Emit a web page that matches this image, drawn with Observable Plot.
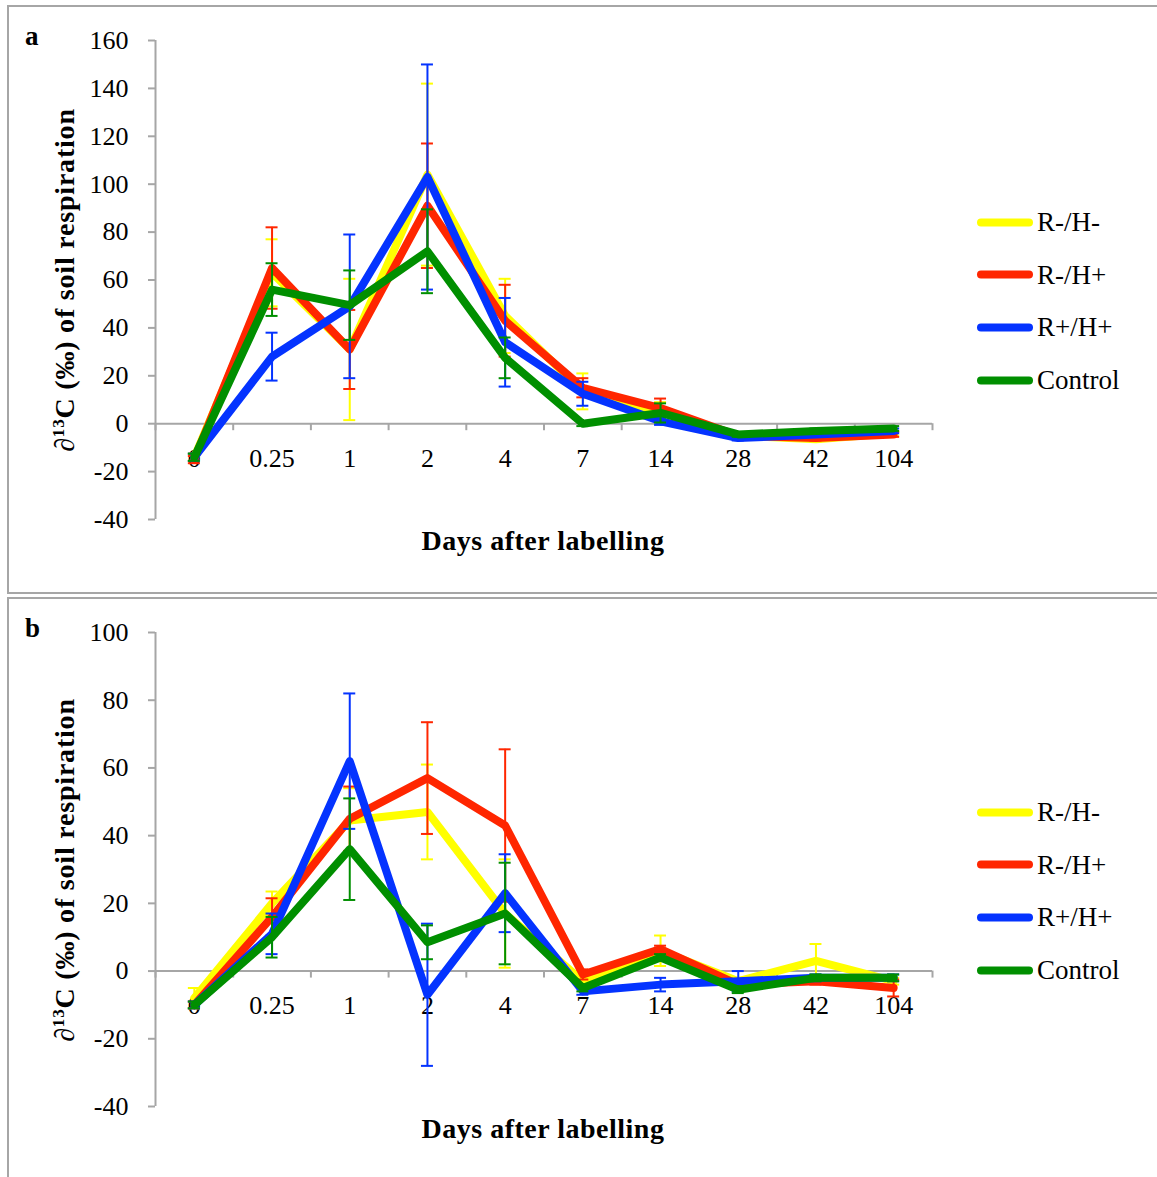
<!DOCTYPE html>
<html>
<head>
<meta charset="utf-8">
<script src="https://cdn.jsdelivr.net/npm/d3@7"></script>
<script src="https://cdn.jsdelivr.net/npm/@observablehq/plot@0.6"></script>
<style>
  html, body { margin: 0; padding: 0; background: #fff; }
  #page { position: relative; width: 1157px; height: 1177px; overflow: hidden; background: #fff;
          font-family: "Liberation Serif", "DejaVu Serif", serif; color: #000; }
  .box { position: absolute; border: 2px solid #a6a6a6; box-sizing: border-box; }
  .abs { position: absolute; white-space: nowrap; }
  .letter { font-weight: bold; font-size: 27px; }
  .ytitle { font-weight: bold; font-size: 28px; letter-spacing: 0.8px; transform: translate(-50%, -50%) rotate(-90deg); }
  .xtitle { font-weight: bold; font-size: 28px; letter-spacing: 0.5px; transform: translate(-50%, -50%); }
  .leg { font-size: 27px; transform: translateY(-50%); display: flex; align-items: center; }
  .leg .sw { width: 56px; height: 8px; border-radius: 4px; margin-right: 4px; }
  svg { position: absolute; left: 0; }
</style>
</head>
<body>
<div id="page"></div>
<script>
// ---------- data ----------
const days = ["0", "0.25", "1", "2", "4", "7", "14", "28", "42", "104"];
const seriesNames = ["R-/H-", "R-/H+", "R+/H+", "Control"];
const seriesColors = ["#ffff00", "#ff2600", "#0433ff", "#008f00"];

// panel a
const aYellow    = [-14, 63, 31, 104, 45, 13.5, 5, -5, -6.5, -4];
const aYellowErr = [1.5, 14, 29.5, 38, 15.5, 7.5, 4, 1, 1, 1];
const aRed       = [-15, 65, 31, 91, 43, 15, 6.5, -5, -6, -4.5];
const aRedErr    = [1.5, 17, 16.5, 26, 15, 4, 4, 1, 1, 1];
const aBlue      = [-14, 28, 49, 103, 34, 12.5, 1, -6, -4.5, -3];
const aBlueErr   = [1.5, 10, 30, 47, 18.5, 5, 1.5, 1, 1, 1];
const aGreen     = [-14, 56, 49.5, 72, 27.5, 0, 4.5, -4.5, -3, -2];
const aGreenErr  = [1.5, 11, 14.5, 17.5, 8.5, 1, 4, 1, 1, 1];
const aYTicks    = [-40, -20, 0, 20, 40, 60, 80, 100, 120, 140, 160];

// panel b
const bYellow    = [-8, 20, 44.5, 47, 17, -3, 6, -3, 3, -3];
const bYellowErr = [3, 3.5, 9.5, 14, 16, 1, 4.5, 1, 5, 1];
const bRed       = [-10, 16, 45, 57, 43, -1, 6.5, -4, -3, -5];
const bRedErr    = [1, 5.5, 9.5, 16.5, 22.5, 1.5, 1, 1, 1, 2.5];
const bBlue      = [-10, 11, 62, -7, 23, -6, -4, -3, -2, -2];
const bBlueErr   = [1, 6, 20, 21, 11.5, 1, 2, 3, 1, 1];
const bGreen     = [-10, 10, 36, 8.5, 17, -5, 4, -5.5, -2, -2];
const bGreenErr  = [1, 6, 15, 5, 15, 1, 1, 1, 1, 1];
const bYTicks    = [-40, -20, 0, 20, 40, 60, 80, 100];

// ---------- build ----------
const page = document.getElementById("page");
const GRAY = "#a6a6a6";

function rowsFor(valuesList, errList) {
  const rows = [];
  seriesNames.forEach((s, k) => {
    valuesList[k].forEach((v, i) => rows.push({series: s, i, value: v, err: errList[k][i]}));
  });
  return rows;
}

function makePanel(cfg) {
  const rows = rowsFor(cfg.values, cfg.errs);
  const boundaries = d3.range(days.length + 1).map(k => k - 0.5);
  const marks = [
    Plot.ruleX([-0.5], {x: d => d, stroke: GRAY, strokeWidth: 2}),
    Plot.ruleY(cfg.yTicks, {y: d => d, x1: () => -0.5, x2: () => -0.5, insetLeft: -7, stroke: GRAY, strokeWidth: 2}),
    Plot.text(cfg.yTicks, {x: () => -0.5, y: d => d, text: d => String(d), textAnchor: "end", dx: -27, fill: "#000"}),
    Plot.ruleY([0], {y: d => d, stroke: GRAY, strokeWidth: 2}),
    Plot.ruleX(boundaries, {x: d => d, y1: () => 0, y2: () => 0, insetBottom: -7, stroke: GRAY, strokeWidth: 2}),
    Plot.text(days, {x: (d, i) => i, y: () => 0, dy: 35, text: d => d, fill: "#000"})
  ];
  seriesNames.forEach((s, k) => {
    const data = rows.filter(r => r.series === s);
    marks.push(Plot.line(data, {x: "i", y: "value", stroke: seriesColors[k], strokeWidth: 8,
      strokeLinejoin: "round", strokeLinecap: "round"}));
    marks.push(Plot.ruleX(data, {x: "i", y1: d => d.value - d.err, y2: d => d.value + d.err,
      stroke: seriesColors[k], strokeWidth: 2}));
    marks.push(Plot.ruleY(data, {y: d => d.value + d.err, x1: "i", x2: "i", insetLeft: -6, insetRight: -6,
      stroke: seriesColors[k], strokeWidth: 2}));
    marks.push(Plot.ruleY(data, {y: d => d.value - d.err, x1: "i", x2: "i", insetLeft: -6, insetRight: -6,
      stroke: seriesColors[k], strokeWidth: 2}));
  });
  const svg = Plot.plot({
    width: 1157, height: cfg.height,
    marginLeft: 155, marginRight: 225, marginTop: 40, marginBottom: 71,
    x: {domain: [-0.5, days.length - 0.5], axis: null},
    y: {domain: [cfg.yTicks[0], cfg.yTicks[cfg.yTicks.length - 1]], axis: null},
    style: {fontFamily: '"Liberation Serif", serif', fontSize: "26px", background: "transparent", overflow: "visible"},
    marks
  });
  svg.style.top = cfg.top + "px";

  const box = document.createElement("div");
  box.className = "box";
  Object.assign(box.style, {left: "7px", top: cfg.boxTop + "px", width: "1160px", height: cfg.boxH + "px"});
  page.appendChild(box);
  page.appendChild(svg);

  const letter = document.createElement("div");
  letter.className = "abs letter";
  letter.textContent = cfg.letter;
  Object.assign(letter.style, {left: "25px", top: (cfg.top + 21) + "px"});
  page.appendChild(letter);

  const yt = document.createElement("div");
  yt.className = "abs ytitle";
  yt.innerHTML = "<i>∂</i><sup style='font-size:17px'>13</sup>C (‰) of soil respiration";
  Object.assign(yt.style, {left: "65px", top: (cfg.top + cfg.yTitleY) + "px"});
  page.appendChild(yt);

  const xt = document.createElement("div");
  xt.className = "abs xtitle";
  xt.textContent = "Days after labelling";
  Object.assign(xt.style, {left: "543px", top: (cfg.top + cfg.xTitleY) + "px"});
  page.appendChild(xt);

  seriesNames.forEach((s, k) => {
    const lg = document.createElement("div");
    lg.className = "abs leg";
    lg.innerHTML = `<span class="sw" style="background:${seriesColors[k]}"></span><span>${s}</span>`;
    Object.assign(lg.style, {left: "977px", top: (cfg.top + cfg.legY + k * 52.7) + "px"});
    page.appendChild(lg);
  });
}

makePanel({letter: "a", top: 0, height: 590, boxTop: 5, boxH: 589,
  values: [aYellow, aRed, aBlue, aGreen], errs: [aYellowErr, aRedErr, aBlueErr, aGreenErr],
  yTicks: aYTicks, yTitleY: 280, xTitleY: 541, legY: 222});
makePanel({letter: "b", top: 592, height: 585, boxTop: 597, boxH: 600,
  values: [bYellow, bRed, bBlue, bGreen], errs: [bYellowErr, bRedErr, bBlueErr, bGreenErr],
  yTicks: bYTicks, yTitleY: 278, xTitleY: 537, legY: 220});
</script>
</body>
</html>
